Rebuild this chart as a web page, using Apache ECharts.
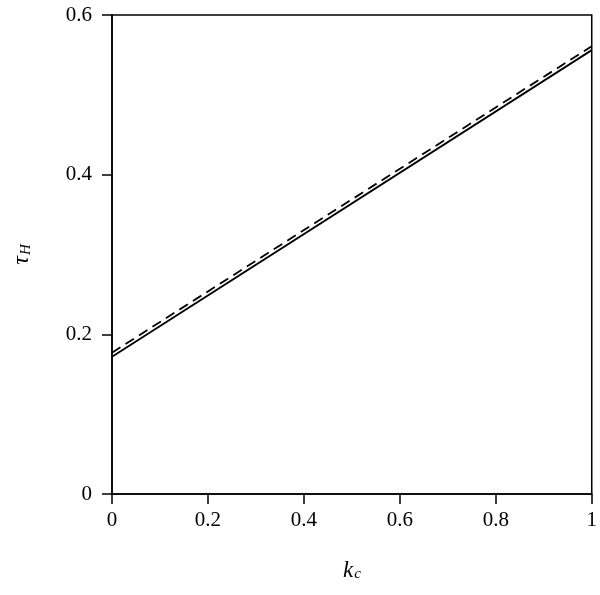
<!DOCTYPE html>
<html><head><meta charset="utf-8">
<script src="https://cdn.jsdelivr.net/npm/echarts@6/dist/echarts.min.js"></script>
<style>html,body{margin:0;padding:0;background:#fff}#c{width:600px;height:595px}</style>
</head><body><div id="c"></div>
<script>
const xValues = [0, 1];
const solidValues = [0.172, 0.556];
const dashedValues = [0.177, 0.561];
const xTicks = ['0', '0.2', '0.4', '0.6', '0.8', '1'];
const yTicks = ['0', '0.2', '0.4', '0.6'];

const font = 'Liberation Serif';
const chart = echarts.init(document.getElementById('c'));
chart.setOption({
  animation: false,
  backgroundColor: '#fff',
  grid: {left: 112, right: 6, top: 15, bottom: 101, show: true, borderColor: '#000', borderWidth: 1.5, backgroundColor: 'transparent'},
  xAxis: {
    type: 'value', min: 0, max: 1, interval: 0.2,
    name: '{i|k}{s|c}', nameLocation: 'middle', nameGap: 60,
    nameTextStyle: {rich: {
      i: {fontFamily: font, fontStyle: 'italic', fontSize: 23, color: '#000', lineHeight: 28, verticalAlign: 'bottom'},
      s: {fontFamily: font, fontStyle: 'italic', fontSize: 15, color: '#000', lineHeight: 28, verticalAlign: 'bottom', padding: [8, 0, 0, 1]}
    }},
    axisLine: {show: true, lineStyle: {color: '#000', width: 1.5}},
    axisTick: {show: true, inside: false, length: 10, lineStyle: {color: '#000', width: 1.5}},
    axisLabel: {fontFamily: font, fontSize: 21, color: '#000', margin: 16,
      formatter: v => xTicks[Math.round(v / 0.2)]},
    splitLine: {show: false}
  },
  yAxis: {
    type: 'value', min: 0, max: 0.6, interval: 0.2,
    name: '{i|τ}{s|H}', nameLocation: 'middle', nameGap: 78,
    nameTextStyle: {rich: {
      i: {fontFamily: font, fontStyle: 'italic', fontSize: 24, color: '#000', lineHeight: 28, verticalAlign: 'bottom'},
      s: {fontFamily: font, fontStyle: 'italic', fontSize: 15, color: '#000', lineHeight: 28, verticalAlign: 'bottom', padding: [8, 0, 0, 1]}
    }},
    axisLine: {show: true, lineStyle: {color: '#000', width: 1.5}},
    axisTick: {show: true, inside: false, length: 10, lineStyle: {color: '#000', width: 1.5}},
    axisLabel: {fontFamily: font, fontSize: 21, color: '#000', margin: 20,
      formatter: v => yTicks[Math.round(v / 0.2)]},
    splitLine: {show: false}
  },
  series: [
    {type: 'line', data: xValues.map((x, i) => [x, solidValues[i]]), showSymbol: false,
      lineStyle: {color: '#000', width: 1.8, type: 'solid'}},
    {type: 'line', data: xValues.map((x, i) => [x, dashedValues[i]]), showSymbol: false,
      lineStyle: {color: '#000', width: 1.8, type: [10, 6]}}
  ]
});
</script></body></html>
